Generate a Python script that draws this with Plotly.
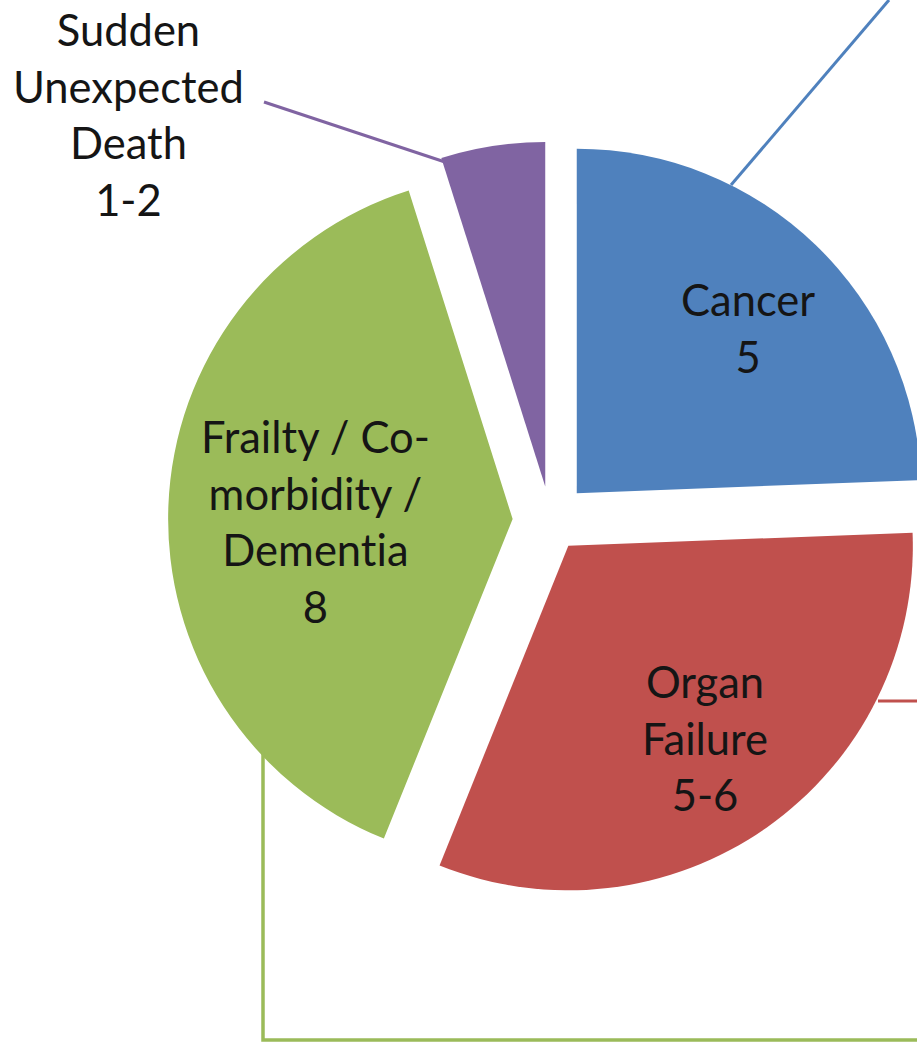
import plotly.graph_objects as go

# ---- data ----
categories = ["Cancer", "Organ Failure", "Frailty / Co-morbidity / Dementia", "Sudden Unexpected Death"]
values = [5, 6.5, 8, 1]
value_labels = ["5", "5-6", "8", "1-2"]
colors = ["#4F81BD", "#C0504D", "#9BBB59", "#8064A2"]
pulls = [0.11, 0.09, 0.11, 0.10]

# ---- layout constants (pixels) ----
W, H = 1100, 1052          # figure is wider than the window; right part is cropped
CX, CY = 550.5, 520.5      # pie centre
R = 344.5                  # pie radius
half = R * (1 + max(pulls))

def px(x):
    return x / W

def py(y):
    return 1 - y / H

fig = go.Figure(go.Pie(
    labels=categories,
    values=values,
    sort=False,
    direction="clockwise",
    rotation=0,
    pull=pulls,
    marker=dict(colors=colors, line=dict(width=0)),
    textinfo="none",
    hoverinfo="label+value",
    showlegend=False,
    domain=dict(x=[px(CX - half), px(CX + half)], y=[py(CY + half), py(CY - half)]),
))

TEXT = "#151515"
FONT = "Lato, Carlito, Calibri, sans-serif"
FS = 43.5
NOLIG = '<span style="font-variant-ligatures:none;letter-spacing:0.01px">'

label_text = [
    "Cancer<br>" + value_labels[0],
    "Organ<br>Failure<br>" + value_labels[1],
    "Frailty / Co-<br>morbidity /<br>" + NOLIG + "Dementia</span><br>" + value_labels[2],
    "Sudden<br>Unexpected<br>Death<br>" + value_labels[3],
]
label_pos = [(748, 327), (705, 737), (315, 521), (128, 114)]

annotations = []
for t, (x, y) in zip(label_text, label_pos):
    annotations.append(dict(
        x=px(x), y=py(y), xref="paper", yref="paper", text=t, showarrow=False,
        xanchor="center", yanchor="middle", align="center",
        font=dict(family=FONT, size=FS, color=TEXT),
    ))

LW = 3
shapes = [
    # Cancer leader
    dict(type="line", xref="paper", yref="paper", x0=px(731), y0=py(185), x1=px(889), y1=py(0),
         line=dict(color=colors[0], width=LW)),
    # Organ failure leader
    dict(type="line", xref="paper", yref="paper", x0=px(878), y0=py(701), x1=px(1000), y1=py(701),
         line=dict(color=colors[1], width=LW)),
    # Frailty leader (elbow)
    dict(type="path", xref="paper", yref="paper",
         path=f"M {px(263)} {py(750)} L {px(263)} {py(1040)} L {px(1000)} {py(1040)}",
         line=dict(color=colors[2], width=LW + 0.5)),
    # Sudden death leader
    dict(type="line", xref="paper", yref="paper", x0=px(264), y0=py(102), x1=px(448), y1=py(163),
         line=dict(color=colors[3], width=LW)),
]

fig.update_layout(
    width=W, height=H,
    margin=dict(l=0, r=0, t=0, b=0),
    paper_bgcolor="white", plot_bgcolor="white",
    annotations=annotations, shapes=shapes,
)

fig.write_html(
    "out.html",
    config={"displayModeBar": False},
    post_script="document.body.style.margin='0';document.body.style.overflow='hidden';document.documentElement.style.overflow='hidden';",
)
